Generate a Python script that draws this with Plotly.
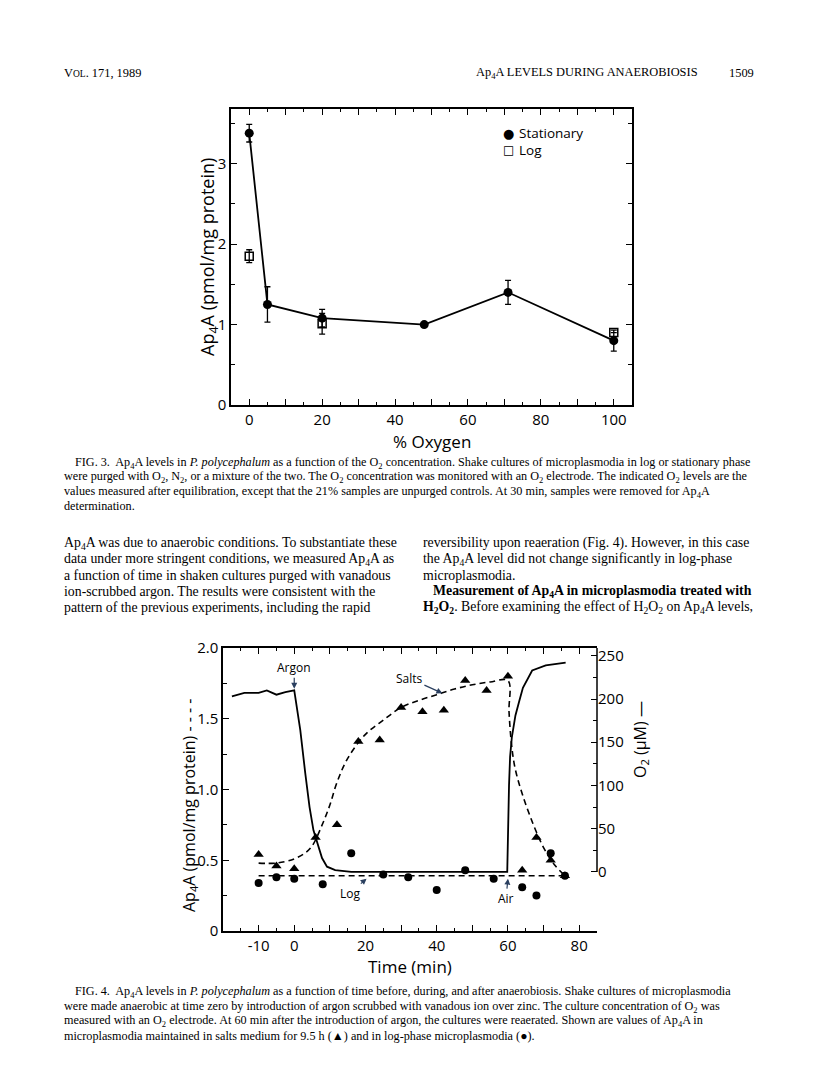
import plotly.graph_objects as go

# The page body has an 8px margin, so the figure is sized to fill the rest
# of the 816x1082 window and every position below is given in window pixels.
PAGE_W, PAGE_H, BODY_MARGIN = 816, 1082, 8
W, H = PAGE_W - 2 * BODY_MARGIN, PAGE_H - 2 * BODY_MARGIN

# ---- Fig. 3: Ap4A vs % oxygen ----
o2_pct = [0, 5, 20, 48, 71, 100]
stat_ap4a = [3.38, 1.25, 1.08, 1.00, 1.40, 0.80]
stat_err = [0.11, 0.22, 0.11, 0.0, 0.15, 0.13]
log_pct = [0, 20, 100]
log_ap4a = [1.85, 1.01, 0.90]
log_err = [0.08, 0.13, 0.0]

# ---- Fig. 4: Ap4A and O2 vs time ----
salts_t = [-10, -5, 0, 6, 12, 18, 24, 30, 36, 42, 48, 54, 60, 64, 68, 72, 76]
salts_v = [0.54, 0.46, 0.44, 0.66, 0.75, 1.34, 1.35, 1.58, 1.55, 1.56,
           1.77, 1.70, 1.80, 0.43, 0.66, 0.50, 0.39]
logp_t = [-10, -5, 0, 8, 16, 25, 32, 40, 48, 56, 64, 68, 72, 76]
logp_v = [0.34, 0.38, 0.37, 0.33, 0.55, 0.40, 0.38, 0.29, 0.43, 0.37,
          0.31, 0.25, 0.55, 0.39]

salts_fit_t = [-10, -5, 0, 3, 5, 8, 10, 12, 15, 20, 25, 30, 35, 40, 45, 50, 55,
               60, 60.3, 61, 62, 64, 67, 70, 73, 76]
salts_fit_v = [0.48, 0.48, 0.51, 0.55, 0.60, 0.76, 0.89, 1.05, 1.22, 1.39, 1.49,
               1.58, 1.63, 1.67, 1.71, 1.74, 1.76, 1.77, 1.55, 1.32, 1.15, 0.97,
               0.76, 0.59, 0.47, 0.39]
log_fit_t = [-10, 76]
log_fit_v = [0.39, 0.39]

o2_t = [-17.5, -14, -10, -7.7, -5, -2.5, 0, 1.7, 3.1, 4.3, 5.4, 6.7, 7.8, 9.2,
        11.5, 16, 40, 59.8, 60.3, 60.6, 61.1, 62.1, 63.2, 64.2, 66.8, 70.6, 76.2]
o2_um = [203, 207, 207, 210, 205, 208, 210, 164, 114, 75, 48, 29, 16, 6,
         2, 0, 0, 0, 100, 133, 156, 181, 198, 213, 233, 239, 242]

CHART_FONT = "Open Sans, DejaVu Sans, sans-serif"
TEXT_FONT = "Liberation Serif, Times New Roman, serif"


def px_x(p):
    return (p - BODY_MARGIN) / W


def px_y(p):
    return 1 - (p - BODY_MARGIN) / H


fig = go.Figure()

# Fig. 3 traces
fig.add_trace(go.Scatter(
    x=o2_pct, y=stat_ap4a, mode="lines", line=dict(color="black", width=1.8),
    xaxis="x", yaxis="y",
))
fig.add_trace(go.Scatter(
    x=o2_pct, y=stat_ap4a, mode="markers", name="Stationary",
    marker=dict(symbol="circle", size=9, color="black"),
    error_y=dict(type="data", array=stat_err, color="black", thickness=1.3, width=3),
    xaxis="x", yaxis="y",
))
fig.add_trace(go.Scatter(
    x=log_pct, y=log_ap4a, mode="markers", name="Log",
    marker=dict(symbol="square-open", size=8, color="black", line=dict(width=1.5)),
    error_y=dict(type="data", array=log_err, color="black", thickness=1.3, width=3),
    xaxis="x", yaxis="y",
))

# Fig. 4 traces
fig.add_trace(go.Scatter(
    x=o2_t, y=o2_um, mode="lines", line=dict(color="black", width=1.8),
    xaxis="x2", yaxis="y3",
))
fig.add_trace(go.Scatter(
    x=salts_fit_t, y=salts_fit_v, mode="lines",
    line=dict(color="black", width=1.6, dash="6px,4px"), line_shape="spline",
    xaxis="x2", yaxis="y2",
))
fig.add_trace(go.Scatter(
    x=log_fit_t, y=log_fit_v, mode="lines",
    line=dict(color="black", width=1.6, dash="6px,4px"),
    xaxis="x2", yaxis="y2",
))
fig.add_trace(go.Scatter(
    x=salts_t, y=salts_v, mode="markers",
    marker=dict(symbol="triangle-up", size=9, color="black"),
    xaxis="x2", yaxis="y2",
))
fig.add_trace(go.Scatter(
    x=logp_t, y=logp_v, mode="markers",
    marker=dict(symbol="circle", size=8, color="black"),
    xaxis="x2", yaxis="y2",
))

axis_common = dict(
    showgrid=False, zeroline=False, showline=True, linecolor="black", linewidth=1.5,
    ticks="inside", tickcolor="black", tickwidth=1.3, automargin=False,
    tickfont=dict(family=CHART_FONT, size=15, color="black"),
)

fig.update_layout(
    width=W, height=H, showlegend=False,
    margin=dict(l=0, r=0, t=0, b=0, pad=0, autoexpand=False),
    paper_bgcolor="white", plot_bgcolor="rgba(0,0,0,0)",
    xaxis=dict(
        **axis_common, domain=[px_x(231), px_x(632)], anchor="y",
        range=[-5, 105], mirror="ticks", ticklen=6,
        tickvals=list(range(0, 101, 10)),
        ticktext=["0", "", "20", "", "40", "", "60", "", "80", "", "100"],
        minor=dict(dtick=5, ticklen=3, tickcolor="black", ticks="inside"),
    ),
    yaxis=dict(
        **axis_common, domain=[px_y(405), px_y(109)], anchor="x",
        range=[0, 3.68], mirror="ticks", ticklen=6, dtick=1,
        minor=dict(dtick=0.5, ticklen=4, tickcolor="black", ticks="inside"),
    ),
    xaxis2=dict(
        **axis_common, domain=[px_x(223), px_x(597)], anchor="y2",
        range=[-20, 85], mirror="ticks", ticklen=6,
        tickvals=list(range(-10, 81, 10)),
        ticktext=["-10", "0", "", "20", "", "40", "", "60", "", "80"],
        minor=dict(dtick=5, ticklen=3, tickcolor="black", ticks="inside"),
    ),
    yaxis2=dict(
        **axis_common, domain=[px_y(931), px_y(648)], anchor="x2",
        range=[0, 2.0], ticklen=6,
        tickvals=[0, 0.5, 1.0, 1.5, 2.0], ticktext=["0", "0.5", "1.0", "1.5", "2.0"],
        minor=dict(dtick=0.25, ticklen=4, tickcolor="black", ticks="inside"),
    ),
    yaxis3=dict(
        showgrid=False, zeroline=False, showline=False, automargin=False,
        ticks="inside", tickcolor="black", tickwidth=1.3, ticklen=6,
        tickfont=dict(family=CHART_FONT, size=15, color="black"),
        overlaying="y2", side="right", anchor="x2",
        range=[-68.4, 259],
        tickvals=[0, 50, 100, 150, 200, 250],
        minor=dict(tickvals=[25, 75, 125, 175, 225], ticklen=4,
                   tickcolor="black", ticks="inside"),
    ),
    shapes=[
        # right O2 axis only runs from 0 upward
        dict(type="line", xref="paper", yref="y3", x0=px_x(597), x1=px_x(597),
             y0=0, y1=259, line=dict(color="black", width=1.5)),
    ],
)

ann = []


def text(x, y, s, size=13, font=TEXT_FONT, anchor="left", angle=0):
    ann.append(dict(
        x=px_x(x), y=px_y(y), xref="paper", yref="paper", text=s, showarrow=False,
        xanchor=anchor, yanchor="middle", textangle=angle,
        font=dict(family=font, size=size, color="black"),
    ))


# page header
text(62, 73, "V<span style='font-size:9.5px'>OL</span>. 171, 1989", size=12.4)
text(700, 73, "Ap<sub>4</sub>A LEVELS DURING ANAEROBIOSIS", size=12.4, anchor="right")
text(756, 73, "1509", size=12.4, anchor="right")

# Fig. 3 legend (key drawn as text, like the printed figure)
text(508, 133, "\u25cf", size=13, font=CHART_FONT, anchor="center")
text(517, 133, "Stationary", size=13.5, font=CHART_FONT)
text(508, 150, "\u25a1", size=12, font=CHART_FONT, anchor="center")
text(517, 150, "Log", size=13.5, font=CHART_FONT)

# Fig. 3 axis titles
text(208, 257, "Ap<sub>4</sub>A (pmol/mg protein)", size=18, font=CHART_FONT,
     anchor="center", angle=-90)
text(432, 441, "% Oxygen", size=17, font=CHART_FONT, anchor="center")

# Fig. 3 caption
cap3 = [
    "FIG. 3.  Ap<sub>4</sub>A levels in <i>P. polycephalum</i> as a function of the O<sub>2</sub> concentration. "
    "Shake cultures of microplasmodia in log or stationary phase",
    "were purged with O<sub>2</sub>, N<sub>2</sub>, or a mixture of the two. The O<sub>2</sub> concentration "
    "was monitored with an O<sub>2</sub> electrode. The indicated O<sub>2</sub> levels are the",
    "values measured after equilibration, except that the 21% samples are unpurged controls. "
    "At 30 min, samples were removed for Ap<sub>4</sub>A",
    "determination.",
]
for i, s in enumerate(cap3):
    text(73 if i == 0 else 62, 463 + 14.5 * i, s, size=12.2)

# body text
left_col = [
    "Ap<sub>4</sub>A was due to anaerobic conditions. To substantiate these",
    "data under more stringent conditions, we measured Ap<sub>4</sub>A as",
    "a function of time in shaken cultures purged with vanadous",
    "ion-scrubbed argon. The results were consistent with the",
    "pattern of the previous experiments, including the rapid",
]
right_col = [
    "reversibility upon reaeration (Fig. 4). However, in this case",
    "the Ap<sub>4</sub>A level did not change significantly in log-phase",
    "microplasmodia.",
    "<b>Measurement of Ap<sub>4</sub>A in microplasmodia treated with</b>",
    "<b>H<sub>2</sub>O<sub>2</sub></b>. Before examining the effect of H<sub>2</sub>O<sub>2</sub> on Ap<sub>4</sub>A levels,",
]
for i, s in enumerate(left_col):
    text(62, 543 + 16 * i, s, size=13.8)
for i, s in enumerate(right_col):
    text(431 if i == 3 else 421, 543 + 16 * i, s, size=13.8)

# Fig. 4 axis titles
text(189, 805, "Ap<sub>4</sub>A (pmol/mg protein) - - - -", size=16, font=CHART_FONT,
     anchor="center", angle=-90)
text(640, 740, "O<sub>2</sub> (\u00b5M) \u2014", size=16, font=CHART_FONT,
     anchor="center", angle=-90)
text(410, 967, "Time (min)", size=17, font=CHART_FONT, anchor="center")

# Fig. 4 caption
cap4 = [
    "FIG. 4.  Ap<sub>4</sub>A levels in <i>P. polycephalum</i> as a function of time before, during, "
    "and after anaerobiosis. Shake cultures of microplasmodia",
    "were made anaerobic at time zero by introduction of argon scrubbed with vanadous ion over zinc. "
    "The culture concentration of O<sub>2</sub> was",
    "measured with an O<sub>2</sub> electrode. At 60 min after the introduction of argon, the cultures "
    "were reaerated. Shown are values of Ap<sub>4</sub>A in",
    "microplasmodia maintained in salts medium for 9.5 h (\u25b2) and in log-phase microplasmodia (\u25cf).",
]
for i, s in enumerate(cap4):
    text(73 if i == 0 else 62, 992 + 14.5 * i, s, size=12.2)

# Fig. 4 in-plot labels with arrows
small = dict(family=CHART_FONT, size=12, color="black")
arrow = dict(showarrow=True, arrowhead=2, arrowsize=1, arrowwidth=1.2, font=small)
ann += [
    dict(x=0, y=212, xref="x2", yref="y3", text="Argon", ax=0, ay=-21, **arrow),
    dict(x=41.6, y=1.68, xref="x2", yref="y2", text="Salts", ax=-33, ay=-15, **arrow),
    dict(x=20.3, y=0.37, xref="x2", yref="y2", text="Log", ax=-17, ay=15, **arrow),
    dict(x=60, y=0.37, xref="x2", yref="y2", text="Air", ax=-2, ay=20, **arrow),
]

fig.update_layout(annotations=ann)
fig.write_html("out.html")
